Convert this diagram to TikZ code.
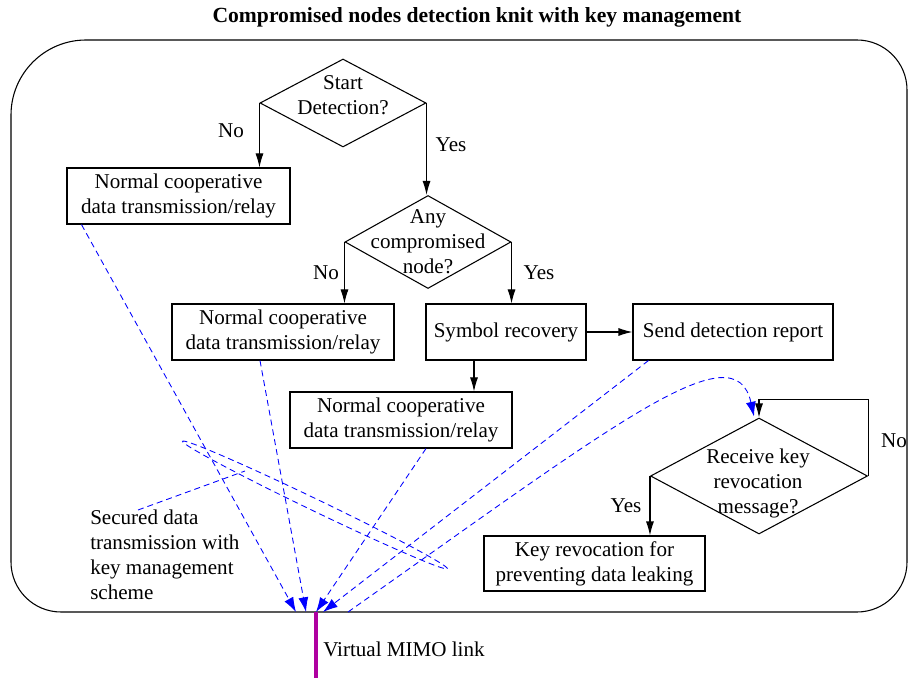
\documentclass[tikz,border=0pt]{standalone}
\usepackage{fontspec}
\setmainfont{Liberation Serif}
\usetikzlibrary{shapes.geometric,arrows.meta,calc}
\definecolor{mimo}{RGB}{175,0,160}
\definecolor{dblue}{RGB}{0,0,255}
\begin{document}
\begin{tikzpicture}[x=0.75pt,y=-0.75pt,
  txt/.style={font=\fontsize{15.8}{18.75}\selectfont, align=center, inner sep=0pt},
  box/.style={txt, draw, line width=0.8pt, minimum height=42pt},
  dia/.style={draw, diamond, line width=0.8pt, inner sep=0pt},
  arr/.style={line width=0.8pt, -{Latex[length=10.5pt,width=6pt]}},
  dsh/.style={draw=dblue, dash pattern=on 4.5pt off 3pt, line width=0.65pt},
  barr/.style={-{Latex[length=11pt,width=7.5pt]}, dblue},
  lbl/.style={txt}
]
\useasboundingbox (0,0) rectangle (909,680);

% title
\node[txt, font=\fontsize{16.2}{18.75}\selectfont\bfseries] (title) at (477,17) {Compromised nodes detection knit with key management};

% outer rounded frame
\draw[line width=0.8pt] (11,115) .. controls (11,73.6) and (44.6,40) .. (86,40)
  -- (857,40) .. controls (884.6,40) and (907,62.4) .. (907,90)
  -- (907,562) .. controls (907,589.6) and (884.6,612) .. (857,612)
  -- (61,612) .. controls (33.4,612) and (11,589.6) .. (11,562) -- cycle;

% diamonds
\node[dia, minimum width=124.5pt, minimum height=66pt] (d1) at (343,103) {};
\node[txt] (d1t) at (343,95) {Start\\Detection?};
\node[dia, minimum width=124.5pt, minimum height=69.75pt] (d2) at (428,242) {};
\node[txt] (d2t) at (428,242) {Any\\compromised\\node?};
\node[dia, minimum width=162.75pt, minimum height=87pt] (d3) at (759,476) {};
\node[txt] (d3t) at (758,483) {Receive key\\revocation\\message?};

% boxes
\node[box, minimum width=167.25pt] (b1) at (178.5,196) {Normal cooperative\\data transmission/relay};
\node[box, minimum width=166.5pt] (b2) at (283,332) {Normal cooperative\\data transmission/relay};
\node[box, minimum width=120pt] (sr) at (506,332) {Symbol recovery};
\node[box, minimum width=150pt] (sd) at (733,332) {Send detection report};
\node[box, minimum width=166.5pt] (b4) at (401,420) {Normal cooperative\\data transmission/relay};
\node[box, minimum width=165.75pt, minimum height=41.25pt] (b5) at (594.5,563.5) {Key revocation for\\preventing data leaking};

% labels
\node[lbl] (n1) at (231,131) {No};
\node[lbl] (y1) at (451,145) {Yes};
\node[lbl] (n2) at (326,273) {No};
\node[lbl] (y2) at (539,273) {Yes};
\node[lbl] (n3) at (894,441) {No};
\node[lbl] (y3) at (626,506) {Yes};
\node[txt, align=left, anchor=north west] (sec) at (90,510) {Secured data\\transmission with\\key management\\scheme};
\node[txt, anchor=west] (vm) at (323,649) {Virtual MIMO link};

% black connectors
\draw[arr] (d1.west) -- (d1.west |- b1.north);
\draw[arr] (d1.east) -- (d1.east |- d2.north);
\draw[arr] (d2.west) -- (d2.west |- b2.north);
\draw[arr] (d2.east) -- (d2.east |- sr.north);
\draw[arr] (sr.east) -- (sr.east -| sd.west);
\coordinate (srx) at (474,0);
\draw[arr] (sr.south -| srx) -- (b4.north -| srx);
\draw[arr] (d3.east) |- ($(d3.north)+(0,-18)$) -- (d3.north);
\draw[arr] (d3.west) -- (d3.west |- b5.north);

% MIMO link
\coordinate (mm) at (316,612);
\coordinate (mmb) at (316,678);
\draw[line width=2.6pt, mimo] (mm) -- (mmb);

% dashed connectors
\coordinate (t1) at (296,612);
\coordinate (t2) at (306,612);
\coordinate (t3) at (316,612);
\coordinate (t4) at (323,612);
\coordinate (c0) at (348,612);
\draw[dsh, barr] ($(b1.south west)+(15,0)$) -- (t1);
\draw[dsh, barr] ($(b2.south)+(-23,0)$) -- (t2);
\draw[dsh, barr] ($(b4.south)+(25,0)$) -- (t3);
\draw[dsh, barr] ($(sd.south west)+(16,0)$) -- (t4);
\draw[dsh, barr] (c0) .. controls (620,420) and (735,330) .. ($(d3.north)+(-5,-1)$);

% group ellipse and pointer
\node[dsh, ellipse, rotate=-25.7, minimum width=220.5pt, minimum height=9pt, inner sep=0pt] (grp) at (315,505) {};
\coordinate (pe) at (245,471);
\draw[dsh] ($(sec.north west)+(48,0)$) -- (pe);
\end{tikzpicture}
\end{document}
